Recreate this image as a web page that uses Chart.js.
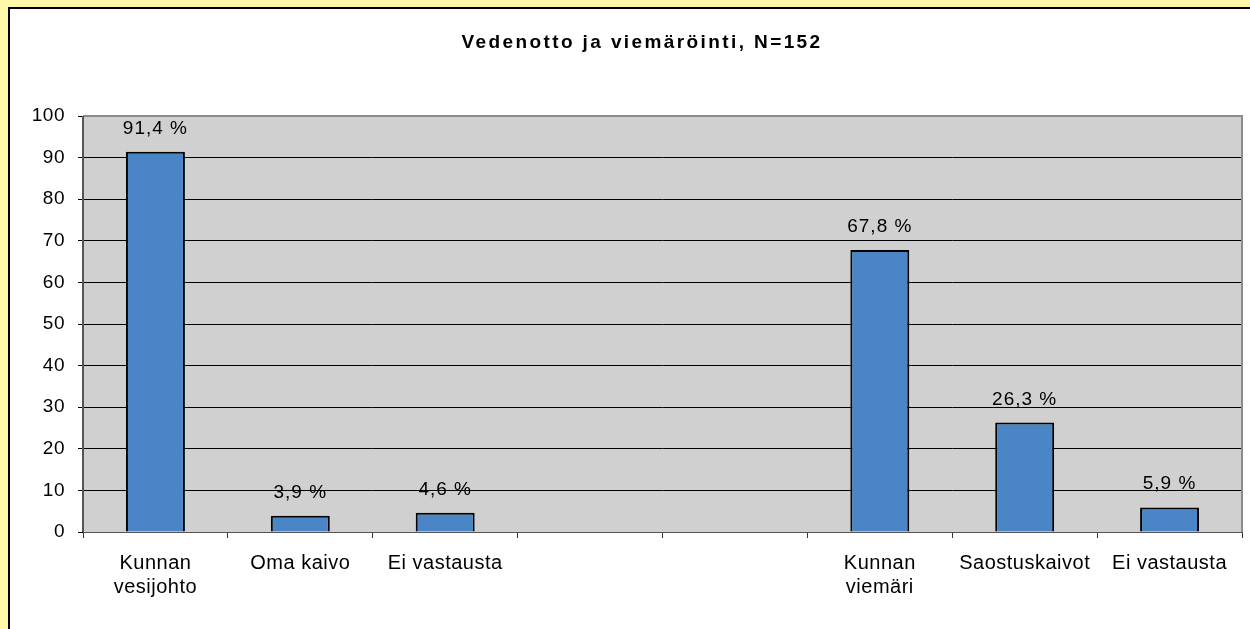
<!DOCTYPE html>
<html lang="fi">
<head>
<meta charset="UTF-8">
<title>Vedenotto ja viemäröinti</title>
<script src="https://cdn.jsdelivr.net/npm/chart.js"></script>
<style>
  html, body { margin: 0; padding: 0; background: #FFF8AA; }
  #box {
    position: absolute; left: 8px; top: 7px; width: 1242px; height: 622px;
    background: #fff; border-left: 2px solid #000; border-top: 2px solid #000;
  }
  #wrap { position: absolute; left: 0; top: 1px; width: 1240px; height: 619px; }
</style>
</head>
<body>
<div id="box"><div id="wrap"><canvas id="myChart"></canvas></div></div>
<script>
const chartTitle = 'Vedenotto ja viemäröinti, N=152';
const categories = [['Kunnan', 'vesijohto'], 'Oma kaivo', 'Ei vastausta', '', '', ['Kunnan', 'viemäri'], 'Saostuskaivot', 'Ei vastausta'];
const values = [91.4, 3.9, 4.6, null, null, 67.8, 26.3, 5.9];
const yTicks = [0, 10, 20, 30, 40, 50, 60, 70, 80, 90, 100];

const FONT = '"Liberation Sans", Arial, sans-serif';
Chart.defaults.font.family = FONT;
Chart.defaults.color = '#000';

// the original text is set a bit looser than plain Arial
const spacing = {
  id: 'spacing',
  beforeLayout(chart) { chart.ctx.letterSpacing = '0.5px'; },
  beforeDraw(chart) { chart.ctx.letterSpacing = '0.5px'; }
};

// grey plot area with border
const plotBg = {
  id: 'plotBg',
  beforeDraw(chart) {
    const a = chart.chartArea, c = chart.ctx;
    c.save();
    c.fillStyle = '#D0D0D0';
    c.fillRect(a.left, a.top, a.right - a.left, a.bottom - a.top);
    c.restore();
  },
  afterDatasetsDraw(chart) {
    const a = chart.chartArea, c = chart.ctx;
    c.save();
    c.strokeStyle = '#8C8C8C';
    c.lineWidth = 2;
    c.beginPath();
    c.moveTo(a.left, a.top);
    c.lineTo(a.right, a.top);
    c.lineTo(a.right, a.bottom);
    c.stroke();
    c.strokeStyle = '#555';
    c.beginPath();
    c.moveTo(a.left, a.top);
    c.lineTo(a.left, a.bottom);
    c.stroke();
    c.restore();
  }
};

// value labels above the bars + the spaced title
const texts = {
  id: 'texts',
  afterDraw(chart) {
    const c = chart.ctx;
    const meta = chart.getDatasetMeta(0);
    c.save();
    c.fillStyle = '#000';
    c.textAlign = 'center';
    c.textBaseline = 'alphabetic';
    c.font = '19px ' + FONT;
    c.letterSpacing = '1px';
    meta.data.forEach((bar, i) => {
      const v = values[i];
      if (v === null) return;
      c.fillText(v.toFixed(1).replace('.', ',') + ' %', bar.x, bar.y - 18);
    });
    c.font = 'bold 19px ' + FONT;
    c.letterSpacing = '2.4px';
    c.fillText(chartTitle, 632, 38);
    c.restore();
  }
};

new Chart(document.getElementById('myChart'), {
  type: 'bar',
  data: {
    labels: categories,
    datasets: [{
      data: values,
      backgroundColor: '#4A86C6',
      borderColor: '#000',
      borderWidth: 2,
      barPercentage: 0.407,
      categoryPercentage: 1
    }]
  },
  options: {
    responsive: true,
    maintainAspectRatio: false,
    animation: false,
    layout: { padding: { left: 0, right: 8, top: 106, bottom: 0 } },
    plugins: {
      legend: { display: false },
      tooltip: { enabled: false },
      title: { display: false }
    },
    scales: {
      x: {
        grid: { drawOnChartArea: false, drawTicks: true, tickLength: 6, color: '#333', offset: true },
        border: { display: true, color: '#555', width: 1 },
        ticks: { font: { size: 20 }, padding: 13, maxRotation: 0, autoSkip: false },
        afterFit(scale) { scale.height = 97; }
      },
      y: {
        min: 0,
        max: 100,
        afterBuildTicks(scale) { scale.ticks = yTicks.map(v => ({ value: v })); },
        grid: { color: '#000', lineWidth: 1, tickLength: 5 },
        border: { display: false },
        ticks: { font: { size: 19 }, padding: 13 },
        afterFit(scale) { scale.width = 73; }
      }
    }
  },
  plugins: [spacing, plotBg, texts]
});
</script>
</body>
</html>
